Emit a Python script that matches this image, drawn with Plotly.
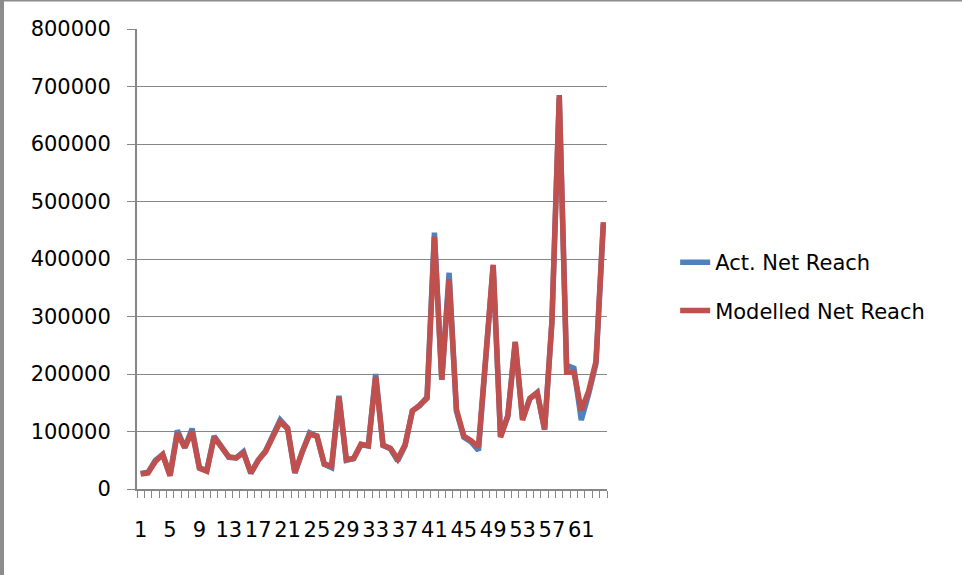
import plotly.graph_objects as go

# ---- data ----
periods = list(range(1, 65))
act_net_reach = [
    27000, 29000, 50000, 60000, 24000, 102000, 72000, 105000, 37000, 32000,
    92000, 73000, 55000, 54000, 65000, 27000, 50000, 66000, 95000, 120000,
    106000, 28000, 64000, 98000, 92000, 43000, 37000, 162000, 50000, 53000,
    77000, 75000, 200000, 76000, 70000, 49000, 75000, 136000, 145000, 160000,
    446000, 190000, 376000, 135000, 90000, 82000, 67000, 215000, 388000, 92000,
    126000, 255000, 122000, 157000, 168000, 103000, 290000, 680000, 215000, 210000,
    120000, 165000, 218000, 460000,
]
modelled_net_reach = [
    26000, 28000, 48000, 60000, 23000, 97000, 72000, 100000, 36000, 31000,
    90000, 72000, 56000, 54000, 63000, 28000, 50000, 65000, 93000, 117000,
    105000, 28000, 65000, 95000, 92000, 43000, 40000, 160000, 51000, 53000,
    78000, 75000, 195000, 76000, 71000, 52000, 77000, 136000, 146000, 158000,
    439000, 190000, 365000, 138000, 92000, 84000, 73000, 220000, 390000, 90000,
    128000, 256000, 120000, 158000, 167000, 104000, 292000, 685000, 203000, 203000,
    137000, 170000, 222000, 464000,
]
x_tickvals = list(range(1, 65, 4))
x_ticktext = [str(v) for v in x_tickvals]
y_tickvals = list(range(0, 800001, 100000))

# ---- styling ----
W, H = 962, 575
ML, MR, MT, MB = 137, 355, 29, 86
plot_w = W - ML - MR
plot_h = H - MT - MB
FONT = "DejaVu Sans"
GRID = "#868686"
BLUE = "#4F81BD"
RED = "#C0504D"

fig = go.Figure()
fig.add_trace(go.Scatter(
    x=periods, y=act_net_reach, mode="lines", name="Act. Net Reach",
    line=dict(color=BLUE, width=5.5), legendgroup="a",
))
fig.add_trace(go.Scatter(
    x=periods, y=modelled_net_reach, mode="lines", name="Modelled Net Reach",
    line=dict(color=RED, width=5.5), legendgroup="b",
))

fig.update_layout(
    width=W, height=H,
    margin=dict(l=ML, r=MR, t=MT, b=MB, autoexpand=False),
    paper_bgcolor="white", plot_bgcolor="white",
    font=dict(family=FONT, size=21, color="#000000"),
    showlegend=True,
    legend=dict(
        x=1.145, y=0.44, xanchor="left", yanchor="middle",
        font=dict(family=FONT, size=21, color="#000000"),
        tracegroupgap=18, bgcolor="rgba(0,0,0,0)",
    ),
    xaxis=dict(
        range=[0.5, 64.5],
        tickmode="array", tickvals=x_tickvals, ticktext=x_ticktext,
        ticks="", showgrid=False, zeroline=False,
        showline=True, linecolor=GRID, linewidth=1.5,
        ticklabelstandoff=21,
        tickfont=dict(family=FONT, size=21, color="#000000"),
        minor=dict(
            tickmode="array", tickvals=[v + 0.5 for v in range(0, 65)],
            ticks="outside", ticklen=7, tickcolor=GRID, tickwidth=1, showgrid=False,
        ),
    ),
    yaxis=dict(
        range=[0, 800000],
        tickmode="array", tickvals=y_tickvals,
        tickformat="d",
        showgrid=True, gridcolor=GRID, gridwidth=1,
        zeroline=False,
        showline=True, linecolor=GRID, linewidth=2,
        ticks="outside", ticklen=8, tickcolor=GRID,
        ticklabelstandoff=12,
        tickfont=dict(family=FONT, size=21, color="#000000"),
    ),
    shapes=[
        # outer frame of the screenshot: left bar and top rule
        dict(type="rect", xref="paper", yref="paper",
             x0=-ML / plot_w, x1=(4 - ML) / plot_w,
             y0=-MB / plot_h, y1=(plot_h + MT) / plot_h,
             line=dict(width=0), fillcolor="#8C8C8C", layer="above"),
        dict(type="line", xref="paper", yref="paper",
             x0=-ML / plot_w, x1=(W - ML) / plot_w,
             y0=(plot_h + MT - 0.5) / plot_h, y1=(plot_h + MT - 0.5) / plot_h,
             line=dict(width=2, color="#8C8C8C"), layer="above"),
    ],
)

fig.write_html(
    "out.html",
    config={"displayModeBar": False},
    post_script="document.body.style.margin='0';document.body.style.overflow='hidden';",
)
